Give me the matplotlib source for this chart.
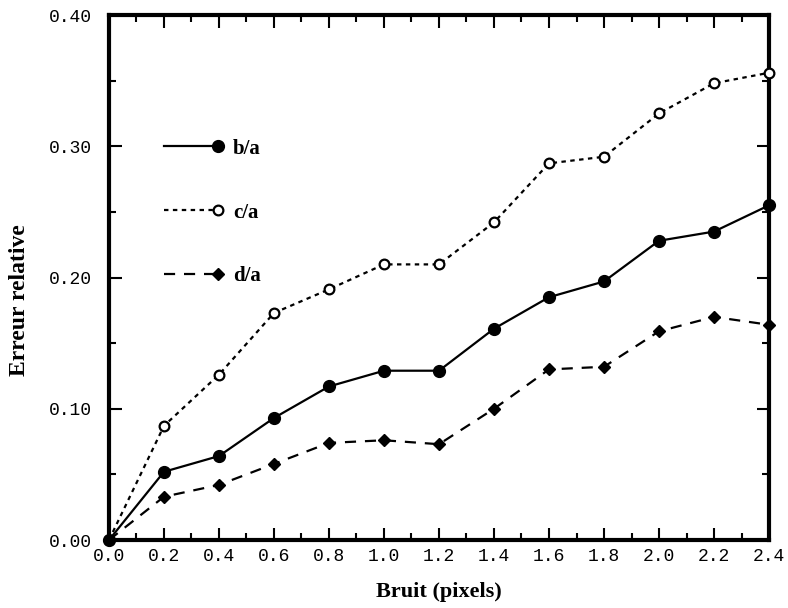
import numpy as np
import matplotlib
matplotlib.use("Agg")
import matplotlib.pyplot as plt
from matplotlib.legend_handler import HandlerLine2D
from matplotlib.ticker import MultipleLocator, FormatStrFormatter

# donnees
bruit = [0.0, 0.2, 0.4, 0.6, 0.8, 1.0, 1.2, 1.4, 1.6, 1.8, 2.0, 2.2, 2.4]
b_a = [0.0, 0.052, 0.064, 0.093, 0.117, 0.129, 0.129, 0.161, 0.185, 0.197, 0.228, 0.235, 0.255]
c_a = [0.0, 0.087, 0.126, 0.173, 0.191, 0.210, 0.210, 0.242, 0.287, 0.292, 0.325, 0.348, 0.356]
d_a = [0.0, 0.033, 0.042, 0.058, 0.074, 0.076, 0.073, 0.100, 0.130, 0.132, 0.159, 0.170, 0.164]


class MarqueurAuBout(HandlerLine2D):
    # marqueur place a l'extremite droite du trait dans la legende
    def create_artists(self, *args, **kwargs):
        arts = super().create_artists(*args, **kwargs)
        for a in arts:
            a.set_markevery([2])
        return arts


serif = ["Liberation Serif", "DejaVu Serif"]
mono = ["Liberation Mono", "DejaVu Sans Mono"]

fig = plt.figure(figsize=(7.88, 6.08), dpi=100)
ax = fig.add_axes([0.1383, 0.1118, 0.8376, 0.8635])

ax.plot(bruit, b_a, color="black", lw=1.6, ls="-", marker="o", ms=8.5,
        mfc="black", mec="black", label="b/a", clip_on=False, zorder=3)
ax.plot(bruit, c_a, color="black", lw=1.6, ls=(0, (2, 2)), marker="o", ms=7,
        mfc="white", mec="black", mew=1.6, label="c/a", clip_on=False, zorder=3)
ax.plot(bruit, d_a, color="black", lw=1.6, ls=(0, (5, 4)), marker="D", ms=6,
        mfc="black", mec="black", label="d/a", clip_on=False, zorder=3)

ax.set_xlim(0, 2.4)
ax.set_ylim(0, 0.40)
ax.xaxis.set_major_locator(MultipleLocator(0.2))
ax.xaxis.set_minor_locator(MultipleLocator(0.1))
ax.yaxis.set_major_locator(MultipleLocator(0.10))
ax.yaxis.set_minor_locator(MultipleLocator(0.05))
ax.xaxis.set_major_formatter(FormatStrFormatter("%.1f"))
ax.yaxis.set_major_formatter(FormatStrFormatter("%.2f"))

ax.tick_params(which="both", direction="in", top=True, right=True, width=1.5)
ax.tick_params(which="major", length=9)
ax.tick_params(which="minor", length=5)
ax.tick_params(axis="y", which="major", pad=12)
ax.tick_params(axis="x", which="major", pad=6)
for lab in ax.get_xticklabels() + ax.get_yticklabels():
    lab.set_family(mono)
    lab.set_fontsize(13)

for sp in ax.spines.values():
    sp.set_linewidth(3)

ax.set_xlabel("Bruit (pixels)", family=serif, fontweight="bold", fontsize=16)
ax.set_ylabel("Erreur relative", family=serif, fontweight="bold", fontsize=17)
ax.xaxis.set_label_coords(0.5, -0.080)
ax.yaxis.set_label_coords(-0.12, 0.457)

leg = ax.legend(handler_map={plt.Line2D: MarqueurAuBout()}, loc="upper left",
                bbox_to_anchor=(0.055, 0.80), frameon=False, handlelength=2.6,
                handletextpad=0.7, labelspacing=2.1, numpoints=1,
                prop={"family": serif, "weight": "bold", "size": 15})

fig.savefig("out.png", dpi=100)
